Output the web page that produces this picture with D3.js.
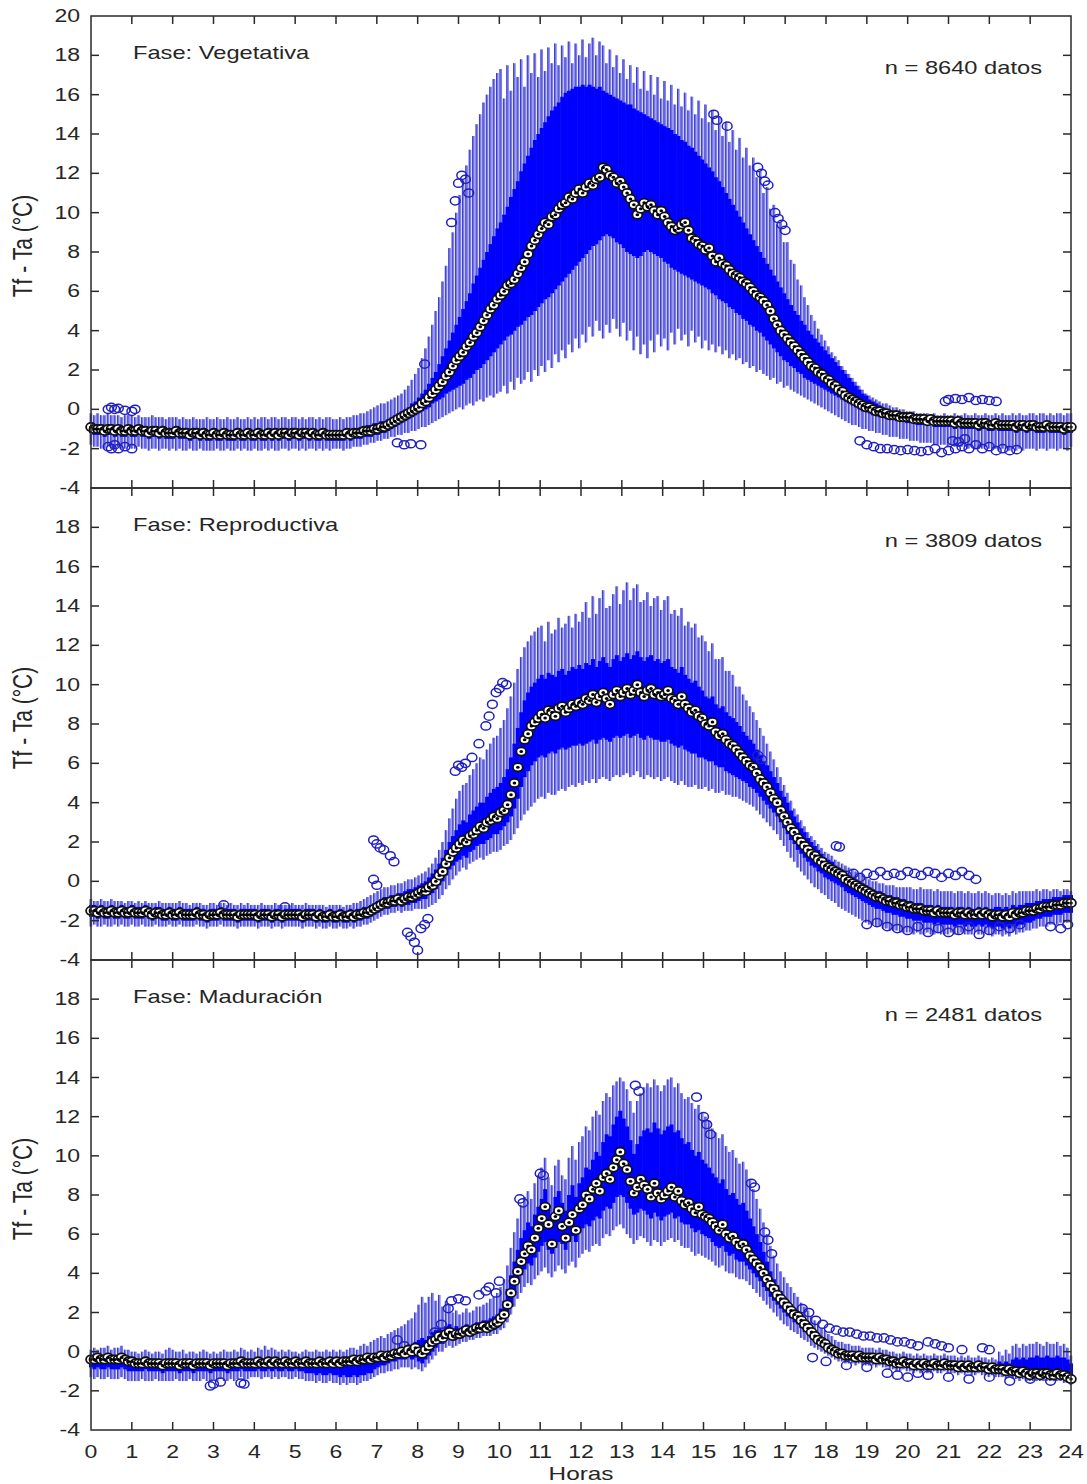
<!DOCTYPE html>
<html>
<head>
<meta charset="utf-8">
<script src="https://cdn.jsdelivr.net/npm/d3@7"></script>
<style>
  body { margin: 0; background: #fff; }
  text { font-family: "Liberation Sans", Arial, sans-serif; fill: #262626; }
</style>
</head>
<body>
<script>
// 288 boxes per phase, one every 5 minutes (12 per hour, one row per hour)

// ---- Fase vegetativa ----
var vegMed = [
-0.9,-1.0,-1.0,-1.0,-1.1,-1.0,-1.0,-1.1,-1.0,-1.1,-1.1,-1.0,
-1.1,-1.1,-1.0,-1.1,-1.1,-1.2,-1.1,-1.1,-1.2,-1.1,-1.2,-1.2,
-1.2,-1.1,-1.2,-1.2,-1.2,-1.3,-1.2,-1.2,-1.3,-1.2,-1.3,-1.3,
-1.2,-1.3,-1.3,-1.2,-1.3,-1.3,-1.3,-1.2,-1.3,-1.3,-1.2,-1.3,
-1.3,-1.2,-1.3,-1.3,-1.2,-1.3,-1.2,-1.3,-1.2,-1.2,-1.3,-1.2,
-1.2,-1.3,-1.2,-1.2,-1.3,-1.2,-1.3,-1.3,-1.2,-1.3,-1.3,-1.3,
-1.3,-1.3,-1.3,-1.2,-1.3,-1.2,-1.2,-1.2,-1.1,-1.1,-1.1,-1.0,
-1.0,-0.9,-0.9,-0.8,-0.7,-0.6,-0.5,-0.4,-0.3,-0.2,-0.1,0.0,
0.1,0.3,0.4,0.6,0.8,1.0,1.2,1.4,1.7,1.9,2.2,2.5,
2.7,2.9,3.2,3.4,3.7,3.9,4.2,4.5,4.8,5.1,5.3,5.6,
5.8,6.0,6.3,6.4,6.6,6.9,7.2,7.5,7.9,8.3,8.6,8.9,
9.2,9.5,9.4,9.8,9.9,10.2,10.4,10.5,10.8,10.7,11.0,11.2,
11.0,11.3,11.5,11.4,11.7,11.8,12.3,12.2,11.9,11.8,11.5,11.6,
11.3,11.0,10.7,10.4,9.9,10.2,10.5,10.3,10.4,10.1,9.9,10.1,
9.8,9.5,9.3,9.1,9.2,9.4,9.5,9.1,8.7,8.6,8.4,8.3,
8.1,8.2,7.8,7.5,7.7,7.4,7.3,7.1,6.9,6.8,6.7,6.5,
6.4,6.2,6.0,5.8,5.7,5.5,5.3,5.0,4.6,4.3,4.0,3.8,
3.6,3.4,3.2,3.0,2.8,2.6,2.4,2.2,2.1,1.9,1.8,1.6,
1.5,1.3,1.2,1.0,0.9,0.7,0.6,0.5,0.4,0.3,0.2,0.1,
0.1,0.0,-0.1,-0.1,-0.2,-0.2,-0.3,-0.3,-0.3,-0.4,-0.4,-0.4,
-0.4,-0.5,-0.5,-0.5,-0.5,-0.6,-0.5,-0.6,-0.6,-0.6,-0.6,-0.6,
-0.6,-0.7,-0.6,-0.7,-0.7,-0.7,-0.7,-0.7,-0.8,-0.7,-0.7,-0.8,
-0.8,-0.7,-0.8,-0.8,-0.8,-0.8,-0.8,-0.9,-0.8,-0.8,-0.9,-0.8,
-0.8,-0.9,-0.9,-0.9,-0.8,-0.9,-0.9,-0.9,-0.9,-1.0,-0.9,-0.9];
var vegQ1 = [
-1.2,-1.3,-1.3,-1.3,-1.4,-1.3,-1.3,-1.4,-1.3,-1.4,-1.4,-1.3,
-1.4,-1.4,-1.3,-1.4,-1.4,-1.5,-1.4,-1.4,-1.5,-1.4,-1.5,-1.5,
-1.5,-1.4,-1.5,-1.5,-1.5,-1.6,-1.5,-1.5,-1.6,-1.5,-1.6,-1.6,
-1.5,-1.6,-1.6,-1.5,-1.6,-1.6,-1.6,-1.5,-1.6,-1.6,-1.5,-1.6,
-1.6,-1.5,-1.6,-1.6,-1.5,-1.6,-1.5,-1.6,-1.5,-1.5,-1.6,-1.5,
-1.5,-1.6,-1.5,-1.5,-1.6,-1.5,-1.6,-1.6,-1.5,-1.6,-1.6,-1.6,
-1.6,-1.6,-1.6,-1.5,-1.6,-1.5,-1.5,-1.5,-1.4,-1.4,-1.4,-1.3,
-1.3,-1.2,-1.2,-1.1,-1.0,-0.9,-0.8,-0.7,-0.6,-0.5,-0.4,-0.3,
-0.2,-0.1,0.0,0.1,0.3,0.4,0.5,0.6,0.8,0.9,1.0,1.1,
1.2,1.3,1.5,1.6,1.8,2.0,2.1,2.3,2.5,2.7,2.9,3.1,
3.3,3.5,3.7,3.8,4.0,4.2,4.3,4.5,4.7,4.8,5.0,5.2,
5.4,5.6,5.7,5.9,6.1,6.3,6.5,6.7,6.9,7.1,7.3,7.5,
7.7,7.9,8.1,8.3,8.4,8.6,8.8,8.9,8.8,8.7,8.5,8.4,
8.2,8.0,7.9,7.8,7.7,7.8,8.0,8.1,8.0,7.9,7.8,7.7,
7.5,7.4,7.2,7.1,7.0,6.9,6.8,6.7,6.6,6.5,6.4,6.3,
6.2,6.1,5.9,5.8,5.6,5.5,5.4,5.2,5.1,4.9,4.8,4.6,
4.5,4.3,4.2,4.0,3.9,3.7,3.5,3.3,3.1,2.9,2.7,2.5,
2.4,2.2,2.1,1.9,1.8,1.6,1.5,1.4,1.3,1.2,1.1,1.0,
0.9,0.8,0.7,0.6,0.5,0.4,0.3,0.2,0.1,0.0,-0.1,-0.1,
-0.2,-0.3,-0.3,-0.4,-0.4,-0.5,-0.5,-0.5,-0.6,-0.6,-0.6,-0.7,
-0.7,-0.7,-0.8,-0.8,-0.8,-0.8,-0.8,-0.9,-0.9,-0.9,-0.9,-0.9,
-0.9,-1.0,-0.9,-1.0,-1.0,-1.0,-1.0,-1.0,-1.1,-1.0,-1.0,-1.1,
-1.1,-1.0,-1.1,-1.1,-1.1,-1.1,-1.1,-1.2,-1.1,-1.1,-1.2,-1.1,
-1.1,-1.2,-1.2,-1.2,-1.1,-1.2,-1.2,-1.2,-1.2,-1.3,-1.2,-1.2];
var vegQ3 = [
-0.7,-0.8,-0.8,-0.8,-0.9,-0.8,-0.8,-0.9,-0.8,-0.9,-0.9,-0.8,
-0.9,-0.9,-0.8,-0.9,-0.9,-1.0,-0.9,-0.9,-1.0,-0.9,-1.0,-1.0,
-1.0,-0.9,-1.0,-1.0,-1.0,-1.1,-1.0,-1.0,-1.1,-1.0,-1.1,-1.1,
-1.0,-1.1,-1.1,-1.0,-1.1,-1.1,-1.1,-1.0,-1.1,-1.1,-1.0,-1.1,
-1.1,-1.0,-1.1,-1.1,-1.0,-1.1,-1.0,-1.1,-1.0,-1.0,-1.1,-1.0,
-1.0,-1.1,-1.0,-1.0,-1.1,-1.0,-1.1,-1.1,-1.0,-1.1,-1.1,-1.1,
-1.1,-1.1,-1.1,-1.0,-1.1,-1.0,-1.0,-0.9,-0.9,-0.8,-0.8,-0.7,
-0.7,-0.6,-0.6,-0.5,-0.4,-0.3,-0.2,-0.1,0.0,0.1,0.3,0.4,
0.6,0.8,1.0,1.3,1.6,1.9,2.3,2.7,3.1,3.5,3.9,4.3,
4.7,5.1,5.5,5.9,6.4,6.8,7.2,7.6,8.0,8.4,8.8,9.2,
9.5,9.9,10.3,10.8,11.2,11.6,12.1,12.5,12.9,13.3,13.7,14.0,
14.3,14.6,14.9,15.2,15.4,15.6,15.9,16.1,16.2,16.3,16.4,16.4,
16.5,16.4,16.5,16.4,16.3,16.4,16.2,16.1,16.0,15.9,15.8,15.7,
15.6,15.5,15.5,15.3,15.2,15.1,15.0,14.9,14.8,14.7,14.6,14.5,
14.4,14.3,14.2,14.0,13.9,13.7,13.6,13.4,13.3,13.1,12.9,12.7,
12.5,12.3,12.1,11.8,11.6,11.3,11.0,10.7,10.4,10.1,9.8,9.5,
9.2,8.9,8.6,8.3,8.0,7.7,7.4,7.1,6.8,6.5,6.2,5.9,
5.6,5.3,5.0,4.8,4.5,4.3,4.0,3.8,3.6,3.4,3.2,3.0,
2.8,2.6,2.4,2.2,2.0,1.8,1.6,1.4,1.2,1.0,0.8,0.7,
0.5,0.4,0.3,0.2,0.1,0.0,-0.1,-0.1,-0.1,-0.2,-0.2,-0.2,
-0.2,-0.3,-0.3,-0.3,-0.3,-0.4,-0.3,-0.4,-0.4,-0.4,-0.4,-0.4,
-0.4,-0.5,-0.4,-0.5,-0.5,-0.5,-0.5,-0.5,-0.6,-0.5,-0.5,-0.6,
-0.6,-0.5,-0.6,-0.6,-0.6,-0.6,-0.6,-0.7,-0.6,-0.6,-0.7,-0.6,
-0.6,-0.7,-0.7,-0.7,-0.6,-0.7,-0.7,-0.7,-0.7,-0.8,-0.7,-0.7];
var vegLo = [
-1.8,-1.9,-1.9,-2.0,-2.0,-1.9,-2.0,-2.0,-1.9,-2.0,-2.0,-1.9,
-2.0,-2.0,-1.9,-2.0,-2.0,-2.1,-2.0,-2.0,-2.1,-2.0,-2.0,-2.1,
-2.0,-2.1,-2.0,-2.1,-2.1,-2.0,-2.1,-2.1,-2.0,-2.1,-2.1,-2.1,
-2.1,-2.0,-2.1,-2.1,-2.0,-2.1,-2.1,-2.0,-2.1,-2.0,-2.1,-2.1,
-2.0,-2.1,-2.1,-2.0,-2.1,-2.0,-2.1,-2.1,-2.0,-2.0,-2.1,-2.0,
-2.0,-2.1,-2.0,-2.1,-2.0,-2.0,-2.1,-2.0,-2.1,-2.0,-2.1,-2.0,
-2.0,-2.0,-2.1,-2.0,-2.0,-1.9,-1.9,-1.9,-1.8,-1.8,-1.7,-1.7,
-1.6,-1.6,-1.5,-1.5,-1.4,-1.4,-1.3,-1.3,-1.2,-1.2,-1.1,-1.1,
-1.0,-0.9,-0.9,-0.8,-0.7,-0.6,-0.5,-0.4,-0.3,-0.2,-0.1,0.0,
0.1,0.0,0.2,0.3,0.2,0.4,0.5,0.4,0.6,0.7,0.6,0.8,
0.9,1.2,0.8,1.4,1.0,1.6,1.3,1.5,1.9,1.4,2.0,1.7,
2.2,1.9,2.5,2.1,2.8,2.4,3.0,2.6,3.3,2.9,3.6,3.1,
3.8,3.4,4.2,3.7,4.5,4.0,3.6,4.3,3.9,4.6,4.1,3.7,
4.4,3.5,4.0,3.0,3.7,2.8,3.3,2.6,3.5,2.9,3.8,3.2,
3.6,3.0,3.9,3.3,4.1,3.5,3.8,3.2,4.0,3.4,3.7,3.1,
3.5,3.0,3.3,2.9,3.2,2.8,3.0,2.6,2.8,2.5,2.6,2.3,
2.4,2.1,2.2,1.9,2.0,1.8,1.7,1.5,1.6,1.3,1.4,1.1,
1.2,1.0,0.9,0.8,0.7,0.6,0.5,0.4,0.3,0.2,0.1,0.0,
-0.1,-0.2,-0.3,-0.4,-0.5,-0.6,-0.7,-0.8,-0.8,-0.9,-1.0,-1.0,
-1.1,-1.1,-1.2,-1.2,-1.3,-1.3,-1.4,-1.4,-1.4,-1.5,-1.5,-1.5,
-1.6,-1.6,-1.6,-1.7,-1.7,-1.7,-1.7,-1.8,-1.8,-1.8,-1.8,-1.9,
-1.8,-1.9,-1.9,-1.9,-1.9,-2.0,-1.9,-2.0,-2.0,-2.0,-1.9,-2.0,
-2.0,-2.0,-2.1,-2.0,-2.0,-2.1,-2.0,-2.1,-2.0,-2.1,-2.0,-2.0,
-2.0,-2.1,-2.0,-2.0,-2.1,-2.0,-2.0,-2.1,-2.0,-2.0,-2.1,-1.9];
var vegHi = [
-0.2,-0.3,-0.2,-0.3,-0.3,-0.2,-0.3,-0.3,-0.3,-0.4,-0.3,-0.3,
-0.3,-0.4,-0.3,-0.4,-0.4,-0.4,-0.3,-0.4,-0.4,-0.4,-0.5,-0.4,
-0.4,-0.4,-0.5,-0.4,-0.5,-0.5,-0.4,-0.5,-0.5,-0.5,-0.4,-0.5,
-0.5,-0.4,-0.5,-0.5,-0.4,-0.5,-0.5,-0.4,-0.5,-0.5,-0.4,-0.5,
-0.4,-0.5,-0.4,-0.4,-0.5,-0.4,-0.4,-0.5,-0.4,-0.4,-0.5,-0.4,
-0.4,-0.5,-0.4,-0.5,-0.4,-0.4,-0.5,-0.4,-0.5,-0.4,-0.4,-0.5,
-0.5,-0.4,-0.5,-0.4,-0.4,-0.3,-0.3,-0.2,-0.2,-0.1,0.0,0.1,
0.2,0.3,0.3,0.4,0.5,0.6,0.7,0.8,1.0,1.2,1.5,1.8,
2.1,2.6,3.1,3.7,4.3,5.0,5.7,6.5,7.3,8.2,9.0,10.0,
10.9,11.7,12.4,13.2,13.9,14.5,15.0,15.6,16.0,16.4,16.8,17.1,
17.3,15.8,17.5,16.2,17.6,16.9,17.8,16.4,18.0,17.1,18.1,16.9,
18.3,17.2,18.4,17.6,18.6,17.5,18.5,17.9,18.7,17.6,18.6,18.0,
18.8,17.9,18.6,18.9,18.0,18.7,18.5,17.6,18.3,17.4,18.0,17.1,
17.8,16.8,17.5,16.6,17.4,16.3,17.2,16.2,17.0,16.0,16.9,15.8,
16.7,15.7,16.5,15.5,16.3,15.4,16.1,15.2,15.9,15.0,15.7,14.8,
15.5,14.6,15.2,14.2,14.9,13.9,14.6,13.6,14.2,13.2,13.8,12.8,
13.3,12.4,12.8,11.8,12.1,11.0,11.3,10.2,10.4,9.4,9.5,8.5,
8.5,7.6,7.4,6.6,6.3,5.7,5.3,4.8,4.5,4.1,3.8,3.5,
3.2,2.9,2.7,2.5,2.2,2.0,1.8,1.6,1.4,1.2,1.0,0.8,
0.7,0.6,0.5,0.4,0.3,0.3,0.2,0.1,0.1,0.0,0.0,-0.1,
-0.1,-0.1,-0.2,-0.2,-0.2,-0.2,-0.3,-0.2,-0.3,-0.3,-0.2,-0.3,
-0.3,-0.2,-0.3,-0.3,-0.2,-0.3,-0.3,-0.2,-0.3,-0.3,-0.2,-0.3,
-0.3,-0.2,-0.3,-0.2,-0.3,-0.3,-0.2,-0.3,-0.2,-0.3,-0.3,-0.2,
-0.2,-0.3,-0.2,-0.2,-0.3,-0.2,-0.3,-0.2,-0.2,-0.3,-0.2,-0.2];
// outliers as [hour, value]
var vegOut = [
[0.42,0.0],[0.5,0.1],[0.58,0.0],[0.67,0.05],[0.83,-0.05],[1.0,-0.1],[1.08,0.0],
[0.42,-1.9],[0.5,-2.0],[0.58,-1.8],[0.67,-2.0],[0.83,-1.9],[1.0,-2.0],
[7.5,-1.7],[7.67,-1.8],[7.83,-1.75],[8.08,-1.8],[8.17,2.3],
[8.83,9.5],[8.92,10.6],[9.0,11.5],[9.08,11.9],[9.17,11.7],[9.25,11.0],
[15.25,15.0],[15.33,14.7],[15.58,14.4],
[16.33,12.3],[16.42,12.0],[16.5,11.6],[16.58,11.4],[16.75,10.0],[16.83,9.7],[16.92,9.4],[17.0,9.1],
[18.83,-1.6],[19.0,-1.8],[19.17,-1.9],[19.33,-2.0],[19.5,-2.0],[19.67,-2.05],[19.83,-2.1],[20.0,-2.05],
[20.17,-2.1],[20.33,-2.15],[20.5,-2.1],[20.67,-2.0],[20.83,-2.2],[21.0,-2.1],[21.17,-2.0],[21.33,-1.9],
[21.5,-2.0],[21.67,-1.8],[21.83,-2.0],[22.0,-1.9],[22.17,-2.1],[22.33,-2.0],[22.5,-2.1],[22.67,-2.05],
[21.1,-1.6],[21.25,-1.65],[21.4,-1.5],
[20.92,0.4],[21.0,0.5],[21.17,0.55],[21.33,0.5],[21.5,0.6],[21.67,0.45],[21.83,0.5],[22.0,0.45],[22.17,0.4]];

// ---- Fase reproductiva ----
var repMed = [
-1.5,-1.5,-1.6,-1.5,-1.6,-1.6,-1.5,-1.6,-1.6,-1.5,-1.6,-1.6,
-1.5,-1.6,-1.6,-1.6,-1.5,-1.6,-1.7,-1.6,-1.6,-1.7,-1.7,-1.6,
-1.7,-1.7,-1.6,-1.7,-1.7,-1.7,-1.7,-1.6,-1.7,-1.7,-1.8,-1.7,
-1.7,-1.7,-1.6,-1.7,-1.7,-1.7,-1.7,-1.8,-1.7,-1.7,-1.7,-1.7,
-1.7,-1.8,-1.7,-1.7,-1.7,-1.8,-1.7,-1.7,-1.8,-1.7,-1.7,-1.7,
-1.7,-1.7,-1.8,-1.7,-1.7,-1.7,-1.8,-1.7,-1.8,-1.8,-1.7,-1.8,
-1.8,-1.7,-1.8,-1.8,-1.7,-1.8,-1.7,-1.7,-1.6,-1.6,-1.5,-1.4,
-1.3,-1.2,-1.1,-1.1,-1.0,-1.0,-0.9,-1.0,-0.9,-0.8,-0.8,-0.7,
-0.6,-0.5,-0.5,-0.3,-0.2,0.0,0.3,0.5,0.9,1.2,1.5,1.7,
1.9,2.1,2.0,2.3,2.4,2.6,2.8,2.7,3.0,3.1,3.3,3.2,
3.5,3.6,3.9,4.4,5.0,5.8,6.6,7.2,7.5,7.9,8.1,8.3,
8.5,8.3,8.7,8.6,8.4,8.8,8.9,8.6,8.8,9.0,8.9,9.1,
9.0,9.3,9.2,9.5,9.1,9.4,9.6,9.3,9.0,9.5,9.7,9.4,
9.6,9.8,9.5,9.7,10.0,9.6,9.4,9.7,9.8,9.5,9.6,9.4,
9.5,9.7,9.3,9.2,9.0,9.4,9.0,8.8,8.6,8.7,8.4,8.3,
8.0,7.9,8.1,7.6,7.4,7.5,7.2,7.0,6.9,6.7,6.5,6.3,
6.1,5.9,5.8,5.5,5.2,5.0,4.8,4.5,4.2,4.0,3.6,3.3,
3.0,2.7,2.5,2.2,2.0,1.8,1.6,1.4,1.3,1.1,1.0,0.8,
0.7,0.6,0.5,0.4,0.3,0.1,0.0,-0.1,-0.2,-0.3,-0.4,-0.5,
-0.6,-0.7,-0.8,-0.8,-0.9,-1.0,-1.0,-1.1,-1.1,-1.2,-1.2,-1.3,
-1.3,-1.4,-1.4,-1.4,-1.5,-1.5,-1.5,-1.6,-1.5,-1.6,-1.6,-1.6,
-1.6,-1.7,-1.6,-1.6,-1.7,-1.6,-1.7,-1.7,-1.6,-1.7,-1.6,-1.7,
-1.8,-1.7,-1.7,-1.8,-1.7,-1.8,-1.6,-1.7,-1.6,-1.6,-1.5,-1.5,
-1.5,-1.4,-1.4,-1.3,-1.3,-1.3,-1.2,-1.2,-1.2,-1.1,-1.1,-1.1];
var repQ1 = [
-1.8,-1.8,-1.9,-1.8,-1.9,-1.9,-1.8,-1.9,-1.9,-1.8,-1.9,-1.9,
-1.8,-1.9,-1.9,-1.9,-1.8,-1.9,-2.0,-1.9,-1.9,-2.0,-2.0,-1.9,
-2.0,-2.0,-1.9,-2.0,-2.0,-2.0,-2.0,-1.9,-2.0,-2.0,-2.1,-2.0,
-2.0,-2.0,-1.9,-2.0,-2.0,-2.0,-2.0,-2.1,-2.0,-2.0,-2.0,-2.0,
-2.0,-2.1,-2.0,-2.0,-2.0,-2.1,-2.0,-2.0,-2.1,-2.0,-2.0,-2.0,
-2.0,-2.0,-2.1,-2.0,-2.0,-2.0,-2.1,-2.0,-2.1,-2.1,-2.0,-2.1,
-2.1,-2.0,-2.1,-2.1,-2.0,-2.1,-2.0,-2.0,-1.9,-1.9,-1.8,-1.7,
-1.6,-1.5,-1.4,-1.4,-1.3,-1.3,-1.2,-1.3,-1.2,-1.2,-1.1,-1.1,
-1.0,-0.9,-0.9,-0.7,-0.6,-0.4,-0.2,0.0,0.3,0.6,0.8,1.0,
1.1,1.3,1.2,1.5,1.6,1.8,1.9,1.9,2.1,2.2,2.4,2.4,
2.6,2.8,3.0,3.3,3.7,4.2,4.8,5.3,5.6,5.9,6.1,6.3,
6.4,6.3,6.5,6.6,6.5,6.7,6.8,6.7,6.8,6.9,6.9,7.0,
6.9,7.0,7.1,7.2,7.0,7.2,7.3,7.2,7.1,7.3,7.4,7.3,
7.4,7.5,7.3,7.4,7.5,7.3,7.2,7.4,7.3,7.2,7.2,7.1,
7.1,7.2,7.0,6.9,6.8,6.9,6.7,6.6,6.5,6.5,6.3,6.3,
6.2,6.1,6.1,5.9,5.8,5.8,5.6,5.5,5.4,5.3,5.2,5.1,
5.0,4.8,4.7,4.5,4.3,4.1,3.9,3.7,3.5,3.3,3.0,2.7,
2.4,2.1,1.9,1.6,1.4,1.2,1.0,0.8,0.7,0.5,0.4,0.2,
0.1,0.0,-0.1,-0.2,-0.3,-0.5,-0.6,-0.7,-0.8,-0.9,-1.0,-1.1,
-1.2,-1.3,-1.4,-1.4,-1.5,-1.6,-1.6,-1.7,-1.7,-1.8,-1.8,-1.9,
-1.9,-2.0,-2.0,-2.0,-2.1,-2.1,-2.1,-2.2,-2.1,-2.2,-2.2,-2.2,
-2.2,-2.3,-2.2,-2.2,-2.3,-2.2,-2.3,-2.3,-2.2,-2.3,-2.2,-2.3,
-2.4,-2.3,-2.3,-2.4,-2.3,-2.4,-2.2,-2.3,-2.2,-2.2,-2.1,-2.1,
-2.0,-1.9,-1.9,-1.8,-1.8,-1.8,-1.7,-1.7,-1.7,-1.6,-1.6,-1.6];
var repQ3 = [
-1.2,-1.2,-1.3,-1.2,-1.3,-1.3,-1.2,-1.3,-1.3,-1.2,-1.3,-1.3,
-1.2,-1.3,-1.3,-1.3,-1.2,-1.3,-1.4,-1.3,-1.3,-1.4,-1.4,-1.3,
-1.4,-1.4,-1.3,-1.4,-1.4,-1.4,-1.4,-1.3,-1.4,-1.4,-1.5,-1.4,
-1.4,-1.4,-1.3,-1.4,-1.4,-1.4,-1.4,-1.5,-1.4,-1.4,-1.4,-1.4,
-1.4,-1.5,-1.4,-1.4,-1.4,-1.5,-1.4,-1.4,-1.5,-1.4,-1.4,-1.4,
-1.4,-1.4,-1.5,-1.4,-1.4,-1.4,-1.5,-1.4,-1.5,-1.5,-1.4,-1.5,
-1.5,-1.4,-1.5,-1.5,-1.4,-1.5,-1.4,-1.4,-1.3,-1.3,-1.2,-1.1,
-1.0,-0.9,-0.8,-0.8,-0.7,-0.7,-0.6,-0.6,-0.5,-0.4,-0.4,-0.3,
-0.2,-0.1,0.0,0.2,0.4,0.6,0.9,1.2,1.6,2.0,2.3,2.6,
2.9,3.1,3.0,3.4,3.6,3.8,4.0,4.0,4.3,4.5,4.7,4.8,
5.0,5.3,5.7,6.3,7.0,7.8,8.6,9.2,9.6,9.9,10.1,10.3,
10.5,10.3,10.6,10.5,10.4,10.7,10.8,10.5,10.7,10.9,10.8,11.0,
10.8,11.1,11.0,11.3,10.9,11.2,11.4,11.1,10.9,11.3,11.5,11.2,
11.4,11.6,11.3,11.5,11.7,11.4,11.2,11.4,11.5,11.2,11.3,11.1,
11.2,11.3,10.9,10.8,10.6,10.9,10.5,10.3,10.1,10.2,9.9,9.7,
9.4,9.3,9.4,9.0,8.8,8.9,8.6,8.4,8.3,8.1,7.9,7.6,
7.4,7.2,7.0,6.7,6.4,6.1,5.9,5.6,5.3,5.0,4.6,4.3,
4.0,3.6,3.3,3.0,2.7,2.5,2.2,2.0,1.8,1.6,1.4,1.2,
1.1,1.0,0.8,0.7,0.6,0.4,0.3,0.2,0.1,0.0,-0.1,-0.2,
-0.3,-0.4,-0.5,-0.5,-0.6,-0.7,-0.7,-0.8,-0.8,-0.9,-0.9,-1.0,
-1.0,-1.1,-1.1,-1.1,-1.2,-1.2,-1.2,-1.3,-1.2,-1.3,-1.3,-1.3,
-1.3,-1.4,-1.3,-1.3,-1.4,-1.3,-1.4,-1.4,-1.3,-1.4,-1.3,-1.4,
-1.4,-1.3,-1.3,-1.4,-1.3,-1.4,-1.2,-1.3,-1.2,-1.2,-1.1,-1.1,
-1.1,-1.0,-1.0,-0.9,-0.9,-0.9,-0.8,-0.8,-0.8,-0.7,-0.7,-0.7];
var repLo = [
-2.3,-2.2,-2.3,-2.3,-2.2,-2.3,-2.3,-2.2,-2.3,-2.2,-2.3,-2.3,
-2.2,-2.3,-2.3,-2.2,-2.3,-2.3,-2.3,-2.2,-2.3,-2.3,-2.3,-2.2,
-2.3,-2.3,-2.2,-2.3,-2.3,-2.3,-2.3,-2.2,-2.3,-2.3,-2.4,-2.3,
-2.3,-2.3,-2.2,-2.3,-2.3,-2.3,-2.3,-2.4,-2.3,-2.3,-2.3,-2.3,
-2.3,-2.4,-2.3,-2.3,-2.3,-2.4,-2.3,-2.3,-2.4,-2.3,-2.3,-2.3,
-2.3,-2.3,-2.4,-2.3,-2.3,-2.3,-2.4,-2.3,-2.4,-2.4,-2.3,-2.4,
-2.4,-2.3,-2.4,-2.4,-2.3,-2.4,-2.3,-2.3,-2.2,-2.2,-2.1,-2.0,
-1.9,-1.8,-1.7,-1.7,-1.6,-1.6,-1.5,-1.6,-1.5,-1.5,-1.5,-1.4,
-1.4,-1.4,-1.4,-1.3,-1.2,-1.1,-0.9,-0.7,-0.4,-0.2,0.1,0.3,
0.5,0.7,0.6,0.9,1.0,1.1,1.2,1.1,1.3,1.4,1.5,1.5,
1.6,1.8,1.9,2.1,2.4,2.7,3.1,3.4,3.6,3.8,4.0,4.2,
4.3,4.2,4.5,4.4,4.4,4.6,4.7,4.6,4.8,4.9,4.8,5.0,
4.9,5.1,5.0,5.2,5.0,5.2,5.3,5.2,5.1,5.3,5.4,5.3,
5.4,5.5,5.3,5.4,5.6,5.3,5.2,5.4,5.3,5.2,5.3,5.1,
5.2,5.3,5.1,5.0,4.9,5.1,4.9,4.8,4.8,4.9,4.7,4.7,
4.8,4.6,4.7,4.5,4.5,4.6,4.4,4.4,4.3,4.3,4.2,4.1,
4.0,3.9,3.8,3.6,3.4,3.2,3.0,2.8,2.6,2.4,2.1,1.8,
1.5,1.2,1.0,0.7,0.5,0.3,0.1,-0.1,-0.3,-0.4,-0.6,-0.7,
-0.9,-1.0,-1.1,-1.3,-1.4,-1.5,-1.6,-1.7,-1.8,-1.9,-2.0,-2.1,
-2.2,-2.2,-2.3,-2.3,-2.4,-2.4,-2.5,-2.5,-2.5,-2.6,-2.6,-2.6,
-2.6,-2.7,-2.6,-2.7,-2.7,-2.6,-2.7,-2.7,-2.6,-2.7,-2.7,-2.7,
-2.6,-2.7,-2.7,-2.6,-2.7,-2.7,-2.7,-2.6,-2.7,-2.7,-2.6,-2.7,
-2.8,-2.7,-2.7,-2.8,-2.7,-2.8,-2.6,-2.7,-2.6,-2.6,-2.5,-2.5,
-2.4,-2.4,-2.3,-2.3,-2.3,-2.2,-2.2,-2.2,-2.1,-2.1,-2.1,-2.1];
var repHi = [
-0.9,-1.0,-1.0,-0.9,-1.0,-1.0,-0.9,-1.0,-1.0,-1.0,-1.1,-1.0,
-1.0,-1.1,-1.0,-1.1,-1.0,-1.1,-1.1,-1.1,-1.0,-1.1,-1.1,-1.1,
-1.1,-1.1,-1.0,-1.1,-1.1,-1.2,-1.1,-1.1,-1.1,-1.2,-1.2,-1.1,
-1.1,-1.2,-1.1,-1.1,-1.2,-1.1,-1.2,-1.2,-1.1,-1.2,-1.1,-1.2,
-1.2,-1.2,-1.1,-1.2,-1.2,-1.2,-1.1,-1.2,-1.2,-1.2,-1.2,-1.1,
-1.2,-1.2,-1.2,-1.1,-1.2,-1.2,-1.2,-1.2,-1.2,-1.3,-1.2,-1.2,
-1.2,-1.2,-1.3,-1.2,-1.2,-1.1,-1.1,-1.0,-0.9,-0.8,-0.7,-0.6,
-0.5,-0.4,-0.3,-0.3,-0.2,-0.2,-0.1,-0.1,0.0,0.1,0.1,0.2,
0.3,0.4,0.5,0.7,0.9,1.2,1.6,2.0,2.6,3.2,3.7,4.2,
4.6,4.9,5.0,5.4,5.7,6.0,6.3,6.2,6.7,7.0,7.3,7.4,
7.8,8.2,8.8,9.4,10.1,10.8,11.4,11.9,12.2,12.5,12.7,12.9,
13.0,12.2,13.2,12.6,12.8,13.4,12.9,13.1,13.5,12.9,13.6,13.2,
13.7,14.2,13.4,14.5,13.6,14.4,14.8,13.9,14.0,14.6,15.0,14.1,
14.8,15.2,14.3,14.9,15.1,14.2,14.3,14.7,14.0,14.4,14.5,13.8,
14.3,14.5,13.6,13.8,13.5,13.9,13.0,13.2,12.9,13.1,12.4,12.5,
12.2,11.7,12.1,11.3,11.3,11.4,10.7,10.7,10.5,9.9,9.9,9.5,
9.2,8.9,8.6,8.2,7.8,7.4,7.0,6.6,6.2,5.8,5.3,4.9,
4.5,4.1,3.7,3.4,3.1,2.8,2.5,2.3,2.1,1.9,1.7,1.5,
1.4,1.3,1.1,1.0,0.9,0.8,0.7,0.6,0.5,0.4,0.3,0.2,
0.1,0.0,0.0,-0.1,-0.1,-0.2,-0.2,-0.2,-0.3,-0.3,-0.3,-0.3,
-0.3,-0.4,-0.4,-0.3,-0.4,-0.4,-0.4,-0.5,-0.4,-0.5,-0.5,-0.5,
-0.5,-0.6,-0.5,-0.5,-0.6,-0.5,-0.6,-0.6,-0.5,-0.6,-0.5,-0.6,
-0.7,-0.6,-0.6,-0.7,-0.6,-0.7,-0.5,-0.6,-0.5,-0.5,-0.5,-0.5,
-0.5,-0.4,-0.5,-0.4,-0.4,-0.5,-0.4,-0.4,-0.5,-0.4,-0.4,-0.5];
var repOut = [
[3.25,-1.2],[4.75,-1.3],
[6.92,2.1],[7.0,1.9],[7.08,1.7],[7.17,1.6],[7.33,1.3],[7.42,1.0],[6.92,0.1],[7.0,-0.2],
[7.75,-2.6],[7.83,-2.8],[7.92,-3.1],[8.0,-3.5],[8.08,-2.4],[8.17,-2.2],[8.25,-1.9],
[8.92,5.6],[9.0,5.9],[9.08,5.8],[9.17,6.0],[9.33,6.3],[9.5,7.0],[9.67,7.9],[9.75,8.4],
[9.83,9.0],[9.92,9.6],[10.0,9.8],[10.08,10.1],[10.17,10.0],
[16.33,6.4],[16.42,6.2],[18.25,1.8],[18.33,1.75],
[18.5,0.3],[18.67,0.4],[18.83,0.2],[19.0,0.4],[19.17,0.3],[19.33,0.5],[19.5,0.3],[19.67,0.4],
[19.83,0.3],[20.0,0.5],[20.17,0.4],[20.33,0.3],[20.5,0.5],[20.67,0.4],[20.83,0.2],[21.0,0.4],
[21.17,0.3],[21.33,0.5],[21.5,0.3],[21.67,0.1],
[19.0,-2.2],[19.25,-2.1],[19.5,-2.3],[19.75,-2.4],[20.0,-2.5],[20.25,-2.3],[20.5,-2.6],[20.75,-2.4],
[21.0,-2.6],[21.25,-2.5],[21.5,-2.3],[21.75,-2.7],[22.0,-2.5],[22.25,-2.3],[22.5,-2.4],[22.75,-2.2],
[23.5,-2.3],[23.75,-2.4],[23.92,-2.2]];

// ---- Fase maduracion ----
var madMed = [
-0.4,-0.4,-0.3,-0.4,-0.4,-0.3,-0.4,-0.4,-0.4,-0.3,-0.4,-0.5,
-0.5,-0.6,-0.6,-0.6,-0.5,-0.6,-0.6,-0.6,-0.6,-0.7,-0.6,-0.6,
-0.6,-0.6,-0.7,-0.6,-0.6,-0.6,-0.7,-0.6,-0.6,-0.6,-0.6,-0.7,
-0.6,-0.6,-0.6,-0.6,-0.7,-0.6,-0.6,-0.6,-0.5,-0.6,-0.6,-0.6,
-0.6,-0.5,-0.6,-0.6,-0.5,-0.6,-0.5,-0.6,-0.6,-0.5,-0.6,-0.6,
-0.5,-0.6,-0.6,-0.5,-0.6,-0.6,-0.6,-0.5,-0.6,-0.6,-0.5,-0.6,
-0.5,-0.6,-0.5,-0.5,-0.5,-0.4,-0.5,-0.4,-0.4,-0.3,-0.4,-0.3,
-0.3,-0.2,-0.3,-0.2,-0.2,-0.1,-0.1,0.0,-0.1,0.1,0.0,0.2,
0.0,-0.1,0.1,0.3,0.5,0.6,0.8,0.7,0.9,1.0,0.8,0.9,
0.9,1.0,1.1,1.0,1.1,1.2,1.2,1.3,1.2,1.3,1.4,1.5,
1.7,1.9,2.4,3.0,3.6,4.1,4.6,5.0,5.4,5.2,5.8,6.3,
6.8,7.4,6.5,5.5,6.9,7.2,6.4,5.8,6.6,7.0,6.2,7.3,
7.5,8.0,7.8,8.3,8.6,8.2,8.9,9.1,8.8,9.4,9.8,10.2,
9.6,9.3,8.7,8.1,8.4,8.8,8.5,8.3,7.9,8.6,8.1,7.8,
8.0,8.2,8.4,7.9,8.2,7.7,7.5,7.6,7.3,7.1,7.4,7.0,
6.9,6.8,6.6,6.4,6.2,6.5,6.0,5.8,5.9,5.6,5.4,5.5,
5.2,4.9,4.7,4.5,4.3,4.0,3.7,3.4,3.2,2.9,2.7,2.5,
2.3,2.1,1.9,1.8,1.6,1.4,1.2,1.0,0.8,0.6,0.5,0.4,
0.2,0.1,0.0,-0.1,-0.1,-0.2,-0.2,-0.2,-0.3,-0.2,-0.3,-0.3,
-0.3,-0.3,-0.4,-0.3,-0.4,-0.4,-0.5,-0.5,-0.6,-0.6,-0.5,-0.6,
-0.6,-0.7,-0.6,-0.7,-0.6,-0.7,-0.7,-0.6,-0.7,-0.7,-0.6,-0.7,
-0.7,-0.7,-0.8,-0.7,-0.8,-0.7,-0.8,-0.8,-0.7,-0.8,-0.8,-0.9,
-0.8,-0.9,-0.9,-0.9,-1.0,-0.9,-1.0,-1.0,-1.1,-1.0,-1.1,-1.2,
-1.1,-1.1,-1.2,-1.1,-1.1,-1.2,-1.2,-1.1,-1.2,-1.2,-1.3,-1.4];
var madQ1 = [
-0.8,-0.9,-0.8,-0.9,-0.9,-0.8,-0.9,-0.9,-0.9,-0.8,-0.9,-1.0,
-1.0,-1.0,-1.0,-1.0,-0.9,-1.0,-1.0,-1.0,-1.0,-1.1,-1.0,-1.0,
-1.0,-1.0,-1.1,-1.0,-1.0,-1.0,-1.1,-1.0,-1.0,-1.0,-1.0,-1.1,
-1.0,-1.0,-1.0,-1.0,-1.1,-1.0,-1.0,-1.0,-0.9,-1.0,-1.0,-1.0,
-1.0,-0.9,-1.0,-1.0,-0.9,-1.0,-0.9,-1.0,-1.0,-0.9,-1.0,-1.0,
-0.9,-1.0,-1.0,-1.1,-1.1,-1.1,-1.2,-1.1,-1.2,-1.2,-1.1,-1.2,
-1.2,-1.3,-1.2,-1.3,-1.3,-1.2,-1.3,-1.2,-1.2,-1.1,-1.1,-0.9,
-0.8,-0.7,-0.7,-0.6,-0.5,-0.5,-0.4,-0.4,-0.4,-0.3,-0.4,-0.3,
-0.5,-0.6,-0.4,-0.2,0.0,0.2,0.4,0.4,0.6,0.7,0.6,0.7,
0.7,0.8,0.8,0.8,0.9,0.9,1.0,1.0,1.0,1.1,1.1,1.2,
1.4,1.6,2.0,2.5,3.0,3.5,3.9,4.2,4.5,4.4,4.8,5.1,
5.4,5.6,5.2,5.0,5.3,5.6,5.5,5.2,5.6,5.9,5.6,6.1,
6.3,6.5,6.4,6.7,6.9,6.8,7.2,7.4,7.3,7.6,7.9,8.0,
7.9,7.6,7.3,7.0,7.1,7.3,7.2,7.0,6.8,7.1,6.9,6.7,
6.9,7.0,7.1,6.8,6.9,6.6,6.5,6.5,6.3,6.1,6.2,6.0,
5.9,5.8,5.6,5.4,5.3,5.4,5.1,4.9,5.0,4.7,4.6,4.6,
4.4,4.2,4.0,3.8,3.6,3.3,3.1,2.8,2.6,2.4,2.2,2.0,
1.8,1.7,1.5,1.4,1.2,1.0,0.9,0.7,0.5,0.4,0.3,0.2,
0.0,-0.1,-0.2,-0.3,-0.3,-0.4,-0.4,-0.4,-0.5,-0.4,-0.5,-0.5,
-0.5,-0.5,-0.6,-0.5,-0.6,-0.6,-0.7,-0.7,-0.8,-0.8,-0.7,-0.8,
-0.8,-0.9,-0.8,-0.9,-0.8,-0.9,-0.9,-0.8,-0.9,-0.9,-0.8,-0.9,
-0.9,-0.9,-1.0,-0.9,-1.0,-0.9,-1.0,-1.0,-0.9,-1.0,-1.0,-1.1,
-1.0,-1.1,-1.1,-1.1,-1.2,-1.1,-1.2,-1.2,-1.3,-1.2,-1.3,-1.3,
-1.3,-1.3,-1.3,-1.3,-1.3,-1.3,-1.3,-1.3,-1.3,-1.3,-1.4,-1.5];
var madQ3 = [
-0.2,-0.2,-0.1,-0.2,-0.2,-0.1,-0.2,-0.2,-0.2,-0.1,-0.2,-0.3,
-0.3,-0.4,-0.4,-0.4,-0.3,-0.4,-0.4,-0.4,-0.4,-0.5,-0.4,-0.4,
-0.4,-0.4,-0.5,-0.4,-0.4,-0.4,-0.5,-0.4,-0.4,-0.4,-0.4,-0.5,
-0.4,-0.4,-0.4,-0.4,-0.5,-0.4,-0.4,-0.4,-0.3,-0.4,-0.4,-0.4,
-0.4,-0.3,-0.4,-0.4,-0.3,-0.4,-0.3,-0.4,-0.4,-0.3,-0.4,-0.4,
-0.3,-0.4,-0.4,-0.3,-0.4,-0.4,-0.4,-0.3,-0.4,-0.4,-0.3,-0.4,
-0.3,-0.4,-0.3,-0.3,-0.3,-0.2,-0.3,-0.2,-0.2,-0.1,-0.2,-0.1,
-0.1,0.0,-0.1,0.0,0.0,0.1,0.1,0.2,0.2,0.3,0.3,0.5,
0.6,0.7,0.6,0.8,1.0,1.1,1.2,1.1,1.3,1.4,1.2,1.3,
1.2,1.3,1.4,1.3,1.4,1.5,1.5,1.6,1.6,1.7,1.8,1.9,
2.2,2.6,3.2,3.9,4.6,5.2,5.8,6.2,6.6,6.4,7.0,7.4,
7.8,8.3,7.5,7.0,7.9,8.2,7.6,7.2,8.0,8.5,7.9,8.6,
8.9,9.4,9.3,9.8,10.2,10.0,10.7,11.1,11.0,11.6,12.0,12.3,
11.9,11.5,10.8,10.1,10.6,11.0,11.3,11.4,11.2,11.7,11.4,11.1,
11.3,11.5,11.6,11.2,11.3,10.9,10.6,10.7,10.3,10.0,10.2,9.8,
9.6,9.4,9.1,8.9,8.6,8.8,8.3,8.0,8.1,7.8,7.5,7.6,
7.2,6.8,6.4,6.0,5.6,5.1,4.6,4.1,3.7,3.4,3.1,2.8,
2.6,2.4,2.2,2.0,1.8,1.6,1.4,1.2,1.0,0.8,0.7,0.6,
0.4,0.3,0.2,0.1,0.1,0.0,0.0,0.0,-0.1,0.0,-0.1,-0.1,
-0.1,-0.1,-0.2,-0.1,-0.2,-0.2,-0.3,-0.3,-0.4,-0.4,-0.3,-0.4,
-0.4,-0.5,-0.4,-0.5,-0.4,-0.5,-0.5,-0.4,-0.5,-0.5,-0.4,-0.5,
-0.5,-0.5,-0.6,-0.5,-0.6,-0.5,-0.6,-0.6,-0.5,-0.6,-0.6,-0.7,
-0.6,-0.7,-0.5,-0.6,-0.5,-0.6,-0.4,-0.3,-0.4,-0.3,-0.4,-0.3,
-0.3,-0.2,-0.3,-0.3,-0.2,-0.3,-0.3,-0.2,-0.3,-0.3,-0.4,-0.6];
var madLo = [
-1.3,-1.4,-1.3,-1.4,-1.4,-1.3,-1.4,-1.4,-1.4,-1.3,-1.4,-1.5,
-1.5,-1.5,-1.5,-1.4,-1.5,-1.5,-1.5,-1.4,-1.5,-1.5,-1.5,-1.5,
-1.5,-1.4,-1.5,-1.5,-1.5,-1.4,-1.5,-1.5,-1.5,-1.4,-1.5,-1.5,
-1.4,-1.5,-1.4,-1.5,-1.5,-1.4,-1.5,-1.4,-1.3,-1.4,-1.4,-1.3,
-1.3,-1.3,-1.4,-1.3,-1.3,-1.4,-1.3,-1.4,-1.3,-1.3,-1.4,-1.4,
-1.3,-1.4,-1.4,-1.5,-1.5,-1.5,-1.6,-1.5,-1.6,-1.6,-1.5,-1.6,
-1.6,-1.7,-1.6,-1.7,-1.6,-1.6,-1.7,-1.6,-1.5,-1.5,-1.4,-1.3,
-1.2,-1.1,-1.1,-1.0,-1.0,-0.9,-0.9,-0.8,-0.8,-0.8,-0.9,-0.8,
-0.9,-1.0,-0.8,-0.6,-0.4,-0.2,0.0,0.0,0.2,0.3,0.2,0.3,
0.4,0.5,0.5,0.6,0.6,0.7,0.7,0.8,0.8,0.8,0.9,0.9,
1.1,1.2,1.5,1.9,2.3,2.7,3.0,3.3,3.5,3.4,3.7,3.9,
4.1,4.3,4.0,3.8,4.1,4.4,4.2,4.0,4.4,4.6,4.3,4.8,
5.0,5.2,5.1,5.4,5.5,5.4,5.8,6.0,5.9,6.2,6.4,6.5,
6.3,6.0,5.8,5.5,5.7,5.9,5.8,5.6,5.4,5.7,5.6,5.4,
5.6,5.7,5.8,5.6,5.7,5.4,5.3,5.3,5.1,4.9,5.0,4.9,
4.8,4.7,4.6,4.4,4.3,4.4,4.1,4.0,4.0,3.8,3.7,3.7,
3.6,3.4,3.2,3.0,2.8,2.6,2.4,2.2,2.0,1.8,1.6,1.4,
1.3,1.1,1.0,0.9,0.7,0.6,0.5,0.3,0.2,0.1,0.0,-0.1,
-0.2,-0.3,-0.4,-0.5,-0.5,-0.6,-0.6,-0.6,-0.7,-0.6,-0.7,-0.7,
-0.7,-0.7,-0.8,-0.7,-0.8,-0.8,-0.9,-0.9,-1.0,-1.0,-0.9,-1.0,
-1.0,-1.1,-1.0,-1.1,-1.0,-1.1,-1.1,-1.0,-1.1,-1.1,-1.0,-1.1,
-1.1,-1.1,-1.2,-1.1,-1.2,-1.1,-1.2,-1.2,-1.1,-1.2,-1.2,-1.3,
-1.2,-1.3,-1.3,-1.3,-1.4,-1.3,-1.4,-1.4,-1.5,-1.4,-1.5,-1.5,
-1.5,-1.5,-1.5,-1.5,-1.5,-1.5,-1.5,-1.5,-1.5,-1.6,-1.6,-1.7];
var madHi = [
0.1,0.2,0.1,0.2,0.2,0.3,0.1,0.2,0.2,0.3,0.1,0.1,
0.0,0.0,-0.1,0.0,0.1,0.0,-0.1,0.0,0.0,-0.1,0.1,0.2,
0.1,0.0,0.0,0.1,-0.1,0.0,0.0,-0.1,0.0,0.1,0.0,-0.1,
0.0,-0.1,0.0,0.1,0.0,0.0,0.1,0.0,0.2,0.1,0.0,0.1,
0.0,0.2,0.1,0.3,0.1,0.2,0.1,0.0,0.1,0.0,0.1,0.0,
0.0,-0.1,0.0,0.1,0.0,0.0,0.1,0.0,0.0,0.1,0.0,0.1,
0.0,0.1,0.0,0.1,0.2,0.2,0.1,0.3,0.4,0.3,0.5,0.6,
0.7,0.8,0.7,0.9,1.0,1.1,1.2,1.3,1.4,1.6,1.7,2.0,
2.4,2.8,2.5,2.8,3.0,2.6,2.9,2.3,2.6,2.4,2.0,2.1,
1.9,2.0,2.2,2.0,2.1,2.3,2.3,2.4,2.5,2.7,2.8,3.0,
3.3,3.7,4.4,5.3,6.1,6.8,7.5,7.9,8.2,7.8,8.6,9.0,
9.4,9.9,8.9,8.5,9.5,9.8,9.0,8.8,9.9,10.5,9.8,10.7,
11.0,11.5,11.3,12.0,12.3,12.1,12.8,13.2,13.0,13.6,13.8,14.0,
13.8,13.4,12.8,12.2,12.8,13.2,13.5,13.7,13.5,13.9,13.6,13.3,
13.6,13.9,14.0,13.5,13.7,13.2,12.9,13.0,12.7,12.4,12.6,12.2,
12.0,11.8,11.4,11.2,10.9,11.1,10.5,10.2,10.3,9.9,9.6,9.7,
9.3,8.8,8.3,7.8,7.3,6.6,6.0,5.4,4.9,4.5,4.1,3.8,
3.5,3.3,3.0,2.8,2.5,2.3,2.1,1.8,1.6,1.4,1.2,1.1,
0.9,0.8,0.6,0.5,0.5,0.4,0.4,0.3,0.3,0.3,0.2,0.2,
0.2,0.2,0.1,0.2,0.1,0.1,0.0,0.0,-0.1,-0.1,0.0,-0.1,
-0.1,-0.2,-0.1,-0.2,-0.1,-0.2,-0.2,-0.1,-0.2,-0.2,-0.1,-0.2,
-0.2,-0.2,-0.3,-0.2,-0.3,-0.2,-0.3,-0.3,-0.2,-0.3,-0.3,-0.4,
-0.3,-0.4,0.0,-0.2,0.1,-0.1,0.3,0.4,0.2,0.4,0.3,0.4,
0.4,0.5,0.4,0.3,0.5,0.4,0.4,0.5,0.3,0.4,0.2,-0.2];
var madOut = [
[2.92,-1.75],[3.0,-1.65],[3.17,-1.55],[3.67,-1.6],[3.75,-1.65],
[7.5,0.6],[7.67,0.3],
[8.25,0.2],[8.42,1.0],[8.58,1.4],[8.75,2.2],[8.83,2.6],[9.0,2.7],[9.17,2.6],[9.5,2.9],
[9.67,3.1],[9.75,3.3],[9.92,3.0],[10.0,3.6],
[10.5,7.8],[10.58,7.6],[11.0,9.1],[11.08,9.0],
[13.33,13.6],[13.42,13.3],
[14.83,13.0],[15.0,12.0],[15.08,11.6],[15.17,11.1],
[16.17,8.6],[16.25,8.4],[16.5,6.1],[16.58,5.7],[16.67,5.0],
[17.42,2.2],[17.58,2.0],[17.75,1.6],[17.92,1.4],[18.08,1.2],[18.25,1.1],[18.42,1.0],[18.58,1.0],
[18.75,0.9],[18.92,0.8],[19.08,0.8],[19.25,0.7],[19.42,0.7],[19.58,0.6],[19.75,0.5],[19.92,0.5],
[20.08,0.4],[20.25,0.3],[20.5,0.5],[20.67,0.4],[20.83,0.3],[21.0,0.2],[21.33,0.1],[21.83,0.2],[22.0,0.1],
[17.67,-0.3],[18.0,-0.5],[18.5,-0.7],[19.0,-0.8],[19.5,-1.1],[19.75,-1.2],[20.0,-1.3],[20.25,-1.1],
[20.5,-1.2],[21.0,-1.3],[21.5,-1.4],[22.0,-1.3],[22.5,-1.5],[23.0,-1.4],[23.5,-1.5]];

var hourTicks = d3.range(0, 25);
var valueTicks = d3.range(-4, 21, 2);

var width = 1087, height = 1484;
var svg = d3.select("body").append("svg")
    .attr("width", width)
    .attr("height", height);

var x = d3.scaleLinear().domain([0, 24]).range([91, 1071]);
var boxPos = d3.scaleLinear().domain([0, 287]).range([0, 24]);

var panels = [
  { title: "Fase: Vegetativa", n: "n = 8640 datos", top: 16, bottom: 488, showTop: true, ny: 74,
    med: vegMed, q1: vegQ1, q3: vegQ3, lo: vegLo, hi: vegHi, out: vegOut },
  { title: "Fase: Reproductiva", n: "n = 3809 datos", top: 488, bottom: 960, showTop: false, ny: 547,
    med: repMed, q1: repQ1, q3: repQ3, lo: repLo, hi: repHi, out: repOut },
  { title: "Fase: Maduración", n: "n = 2481 datos", top: 960, bottom: 1430, showTop: false, ny: 1021,
    med: madMed, q1: madQ1, q3: madQ3, lo: madLo, hi: madHi, out: madOut }
];

// text helper: the reference glyphs are a bit wider than normal Arial
function label(g, px, py, s, size, anchor, rot) {
  return g.append("text")
    .attr("transform", "translate(" + px + "," + py + ") scale(1.28,1)" + (rot ? " rotate(" + rot + ")" : ""))
    .attr("text-anchor", anchor)
    .attr("font-size", size)
    .text(s);
}

panels.forEach(function(p, k) {
  var y = d3.scaleLinear().domain([-4, 20]).range([p.bottom, p.top]);
  var g = svg.append("g");

  var boxes = p.med.map(function(m, i) {
    return { t: boxPos(i), med: m, q1: p.q1[i], q3: p.q3[i], lo: p.lo[i], hi: p.hi[i] };
  });

  // whiskers
  g.selectAll(".wb").data(boxes).enter().append("line")
    .attr("x1", function(d) { return x(d.t); })
    .attr("x2", function(d) { return x(d.t); })
    .attr("y1", function(d) { return y(d.lo); })
    .attr("y2", function(d) { return y(d.hi); })
    .attr("stroke", "#7d7df2")
    .attr("stroke-width", 2.6);
  g.selectAll(".wl").data(boxes).enter().append("line")
    .attr("x1", function(d) { return x(d.t) - 0.8; })
    .attr("x2", function(d) { return x(d.t) - 0.8; })
    .attr("y1", function(d) { return y(d.lo); })
    .attr("y2", function(d) { return y(d.hi); })
    .attr("stroke", "#2b2bb5")
    .attr("stroke-width", 0.8);

  // boxes (compact style: thick bar)
  g.selectAll(".bx").data(boxes).enter().append("line")
    .attr("x1", function(d) { return x(d.t); })
    .attr("x2", function(d) { return x(d.t); })
    .attr("y1", function(d) { return y(d.q1); })
    .attr("y2", function(d) { return y(d.q3); })
    .attr("stroke", "#0000ff")
    .attr("stroke-width", 4);

  // outliers (the picture is stretched sideways, so markers are a bit wide)
  g.selectAll(".ol").data(p.out).enter().append("ellipse")
    .attr("cx", function(d) { return x(d[0]); })
    .attr("cy", function(d) { return y(d[1]); })
    .attr("rx", 4.9).attr("ry", 4.1)
    .attr("fill", "none")
    .attr("stroke", "#2020c0")
    .attr("stroke-width", 1.5);

  // medians: white circle with black ring and dot
  g.selectAll(".md").data(boxes).enter().append("ellipse")
    .attr("cx", function(d) { return x(d.t); })
    .attr("cy", function(d) { return y(d.med); })
    .attr("rx", 4.9).attr("ry", 4.2)
    .attr("fill", "#fff")
    .attr("stroke", "#111")
    .attr("stroke-width", 1.8);
  g.selectAll(".mdd").data(boxes).enter().append("ellipse")
    .attr("cx", function(d) { return x(d.t); })
    .attr("cy", function(d) { return y(d.med); })
    .attr("rx", 1.8).attr("ry", 1.5)
    .attr("fill", "#000");

  // frame
  var ax = svg.append("g").attr("stroke", "#2a2a2a").attr("stroke-width", 1.5).attr("fill", "none");
  ax.append("rect")
    .attr("x", x(0)).attr("y", p.top)
    .attr("width", x(24) - x(0)).attr("height", p.bottom - p.top);

  // ticks on all four sides, pointing inward
  hourTicks.slice(1, 24).forEach(function(h) {
    ax.append("line").attr("x1", x(h)).attr("x2", x(h)).attr("y1", p.bottom).attr("y2", p.bottom - 8);
    ax.append("line").attr("x1", x(h)).attr("x2", x(h)).attr("y1", p.top).attr("y2", p.top + 8);
  });
  valueTicks.slice(1, 12).forEach(function(v) {
    ax.append("line").attr("x1", x(0)).attr("x2", x(0) + 8).attr("y1", y(v)).attr("y2", y(v));
    ax.append("line").attr("x1", x(24)).attr("x2", x(24) - 8).attr("y1", y(v)).attr("y2", y(v));
  });

  // y tick labels
  var tl = svg.append("g");
  valueTicks.forEach(function(v) {
    if (v === 20 && !p.showTop) return;
    label(tl, 80, y(v) + 6, String(v), 18, "end");
  });

  label(svg, 133, p.top + 43, p.title, 18.5, "start");
  label(svg, 1042, p.ny, p.n, 18.5, "end");
  label(svg, 32, (p.top + p.bottom) / 2 - 6, "Tf - Ta (°C)", 21, "middle", -90);
});

// x tick labels on the bottom panel
hourTicks.forEach(function(h) {
  label(svg, x(h), 1458, String(h), 18, "middle");
});
label(svg, 581, 1480, "Horas", 19, "middle");
</script>
</body>
</html>
